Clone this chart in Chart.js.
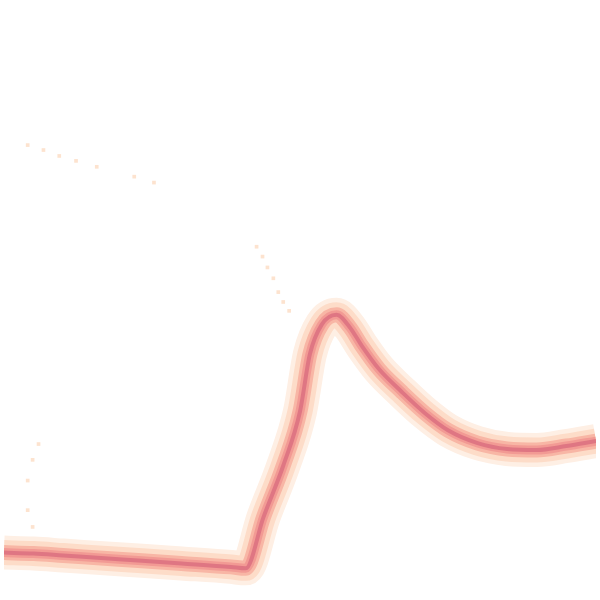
<!DOCTYPE html>
<html>
<head>
<meta charset="utf-8">
<script src="https://cdn.jsdelivr.net/npm/chart.js@4/dist/chart.umd.min.js"></script>
<style>
  html, body { margin: 0; padding: 0; background: #fff; }
  #chart { display: block; }
</style>
</head>
<body>
<canvas id="chart" width="600" height="600"></canvas>
<script>
// grid units 0..120 in both directions (y measured from bottom)
const curveX = [0, 6, 12, 24, 36, 46, 49, 52.6, 56.6, 60, 62, 64.4, 67.4, 70, 72.6, 76, 80.6, 85.4, 90, 96, 102, 108, 114, 120];
const curveY = [8.8, 8.6, 8.2, 7.4, 6.6, 5.9, 5.6, 16, 26.4, 37.4, 49, 55, 57, 54.6, 50.6, 46, 41.4, 37, 33.6, 31, 29.8, 29.6, 30.4, 31.4];

const dotsX = [4.8, 8, 11.2, 14.6, 18.8, 26.4, 30.4, 51.2, 52.4, 53.4, 54.6, 55.6, 56.6, 57.8, 7, 5.8, 4.8, 4.8, 5.8];
const dotsY = [91.4, 90.4, 89.2, 88.2, 87, 85, 83.8, 70.8, 68.8, 66.6, 64.4, 61.6, 59.6, 57.8, 30.8, 27.6, 23.4, 17.4, 14];

document.addEventListener("DOMContentLoaded", function () {
    const ctx = document.getElementById("chart").getContext("2d");
    const curve = curveX.map((x, i) => ({ x: x, y: curveY[i] }));
    const dots = dotsX.map((x, i) => ({ x: x, y: dotsY[i] }));

    // chart.js paints dataset 0 last, so narrowest/darkest stroke goes first
    const bands = [
        { w: 4, c: "#df7683" },
        { w: 9, c: "#f29a94" },
        { w: 15, c: "#f8b6a5" },
        { w: 25, c: "#fddcc8" },
        { w: 34, c: "#feefe4" }
    ];

    const datasets = [{
        data: dots,
        showLine: false,
        pointStyle: "rect",
        pointRadius: 2.6,
        pointBackgroundColor: "#fde3cf",
        pointBorderWidth: 0
    }];
    for (let b of bands) {
        datasets.push({
            data: curve,
            showLine: true,
            borderColor: b.c,
            borderWidth: b.w,
            pointRadius: 0,
            cubicInterpolationMode: "monotone",
            borderJoinStyle: "round"
        });
    }

    new Chart(ctx, {
        type: "scatter",
        data: { datasets: datasets },
        options: {
            responsive: false,
            animation: false,
            layout: { padding: 0 },
            plugins: { legend: { display: false }, tooltip: { enabled: false } },
            scales: {
                x: { type: "linear", min: 0, max: 120, display: false },
                y: { type: "linear", min: 0, max: 120, display: false }
            }
        }
    });
});
</script>
</body>
</html>
